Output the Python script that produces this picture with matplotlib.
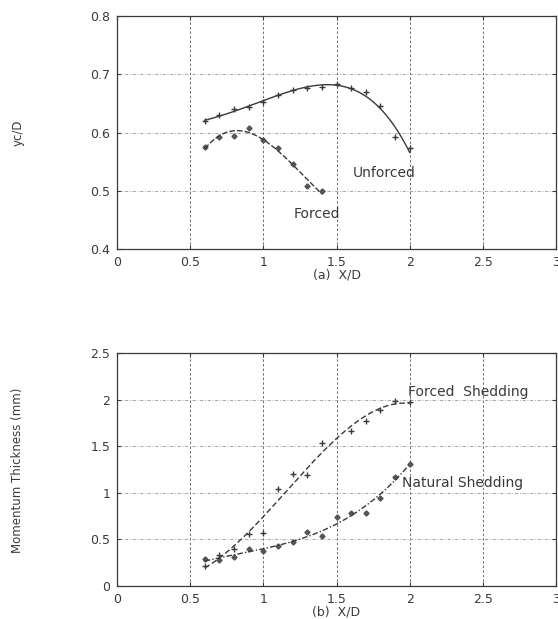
import numpy as np
import matplotlib.pyplot as plt

plt.rcParams['font.family'] = ['DejaVu Sans']

# (a) vortex centre position
x_a = [0.6, 0.7, 0.8, 0.9, 1.0, 1.1, 1.2, 1.3, 1.4, 1.5, 1.6, 1.7, 1.8, 1.9, 2.0]
unforced = [0.619, 0.630, 0.640, 0.644, 0.652, 0.665, 0.673, 0.677, 0.678,
            0.683, 0.676, 0.670, 0.645, 0.592, 0.574]
x_af = [0.6, 0.7, 0.8, 0.9, 1.0, 1.1, 1.2, 1.3, 1.4]
forced = [0.575, 0.593, 0.594, 0.608, 0.587, 0.574, 0.546, 0.508, 0.500]

# (b) momentum thickness
x_bf = [0.6, 0.7, 0.8, 0.9, 1.0, 1.1, 1.2, 1.3, 1.4, 1.6, 1.7, 1.8, 1.9, 2.0]
forced_shed = [0.215, 0.333, 0.394, 0.559, 0.573, 1.039, 1.203, 1.193, 1.533,
               1.658, 1.773, 1.891, 1.981, 1.977]
x_bn = [0.6, 0.7, 0.8, 0.9, 1.0, 1.1, 1.2, 1.3, 1.4, 1.5, 1.6, 1.7, 1.8, 1.9, 2.0]
natural_shed = [0.290, 0.279, 0.315, 0.401, 0.373, 0.430, 0.469, 0.577, 0.537,
                0.741, 0.788, 0.781, 0.949, 1.175, 1.311]

ink = '#3a3a3a'


def fit_curve(ax, x, y, deg, ls):
    xs = np.linspace(min(x), max(x), 200)
    p = np.polyfit(x, y, deg)
    ax.plot(xs, np.polyval(p, xs), color=ink, lw=1.0, ls=ls)


def style_axes(ax, yticks, ylabels, xlabel):
    ax.set_xlim(0, 3)
    ax.set_xticks([0, 0.5, 1, 1.5, 2, 2.5, 3])
    ax.set_xticklabels(['0', '0.5', '1', '1.5', '2', '2.5', '3'])
    ax.set_yticks(yticks)
    ax.set_yticklabels(ylabels)
    ax.set_ylim(yticks[0], yticks[-1])
    ax.tick_params(direction='in', length=3, labelsize=9, colors=ink,
                   right=True, top=True, pad=5)
    ax.xaxis.grid(True, color='#555555', ls=(0, (3, 2.5)), lw=0.6)
    ax.yaxis.grid(True, color='#999999', ls=(0, (4, 2, 1, 2)), lw=0.6)
    ax.set_xlabel(xlabel, fontsize=9, color=ink, labelpad=0)
    for s in ax.spines.values():
        s.set_color(ink)
        s.set_linewidth(0.9)


fig = plt.figure(figsize=(5.58, 6.19), dpi=100)
ax1 = fig.add_axes([0.2097, 0.5977, 0.7867, 0.3763])
ax2 = fig.add_axes([0.2097, 0.0533, 0.7867, 0.3764])

# top panel
ax1.plot(x_a, unforced, '+', color=ink, ms=4.5, mew=1.0)
ax1.plot(x_af, forced, 'D', color='#555555', ms=2.6)
fit_curve(ax1, x_a, unforced, 4, '-')
fit_curve(ax1, x_af, forced, 3, (0, (4, 1.5)))
ax1.text(1.61, 0.53, 'Unforced', fontsize=10, color=ink, va='center')
ax1.text(1.21, 0.46, 'Forced', fontsize=10, color=ink, va='center')
style_axes(ax1, [0.4, 0.5, 0.6, 0.7, 0.8], ['0.4', '0.5', '0.6', '0.7', '0.8'], '(a)  X/D')
fig.text(0.032, 0.785, 'yc/D', rotation=90, fontsize=8.5, color=ink, ha='center', va='center')

# bottom panel
ax2.plot(x_bf, forced_shed, '+', color=ink, ms=4.5, mew=1.0)
ax2.plot(x_bn, natural_shed, 'D', color='#555555', ms=2.6)
fit_curve(ax2, x_bf, forced_shed, 3, (0, (4, 2)))
fit_curve(ax2, x_bn, natural_shed, 3, (0, (4, 1.5, 1, 1.5)))
ax2.text(1.99, 2.08, 'Forced  Shedding', fontsize=10, color=ink, va='center')
ax2.text(1.95, 1.10, 'Natural Shedding', fontsize=10, color=ink, va='center')
style_axes(ax2, [0, 0.5, 1, 1.5, 2, 2.5], ['0', '0.5', '1', '1.5', '2', '2.5'], '(b)  X/D')
fig.text(0.032, 0.24, 'Momentum Thickness (mm)', rotation=90, fontsize=8.5, color=ink,
         ha='center', va='center')

fig.savefig('out.png', dpi=100)
